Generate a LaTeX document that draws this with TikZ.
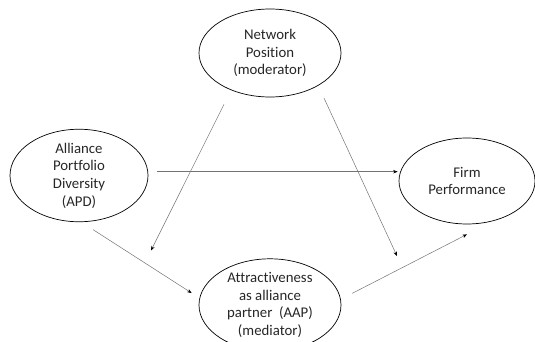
\documentclass[tikz,border=0pt]{standalone}
\usepackage{fontspec}
\setmainfont[Ligatures=NoCommon]{Carlito}
\usetikzlibrary{arrows.meta,calc,shapes.geometric}
\begin{document}
\begin{tikzpicture}[x=1pt,y=-1pt,
  ell/.style={draw=black,line width=0.7pt,ellipse,inner sep=0pt,align=center,
    font=\fontsize{14.8}{17.7}\selectfont,text=black!85},
  arr/.style={draw=black!55,line width=0.5pt,-{Stealth[length=4.5pt,width=3.5pt,black]}}]
\useasboundingbox (0,0) rectangle (535,342);
\node[ell,minimum width=142pt,minimum height=88pt] (np) at (270,53) {Network\\Position\\(moderator)};
\node[ell,minimum width=138pt,minimum height=86pt] (apd) at (79,175.5) {Alliance\\Portfolio\\Diversity\\(APD)};
\node[ell,minimum width=136pt,minimum height=86pt] (firm) at (467,181) {Firm\\Performance};
\node[ell,minimum width=142pt,minimum height=78pt] (aap) at (270,305) {Attractiveness\\as alliance\\partner~~(AAP)\\(mediator)};
\coordinate (m1) at (151,250.5);
\coordinate (m2) at (397,256);
\draw[arr] ($(apd.east)+(9,-3.8)$) -- ($(firm.west)+(-1,-9.3)$);
\draw[arr] ($(np.south)+(-46,7)$) -- (m1);
\draw[arr] ($(np.south)+(54,0.7)$) -- (m2);
\draw[arr] ($(apd.south)+(14,7.5)$) -- ($(aap.west)+(-7,-12)$);
\draw[arr] ($(aap.east)+(11,-11.7)$) -- ($(firm.south)+(0,10)$);
\end{tikzpicture}
\end{document}
